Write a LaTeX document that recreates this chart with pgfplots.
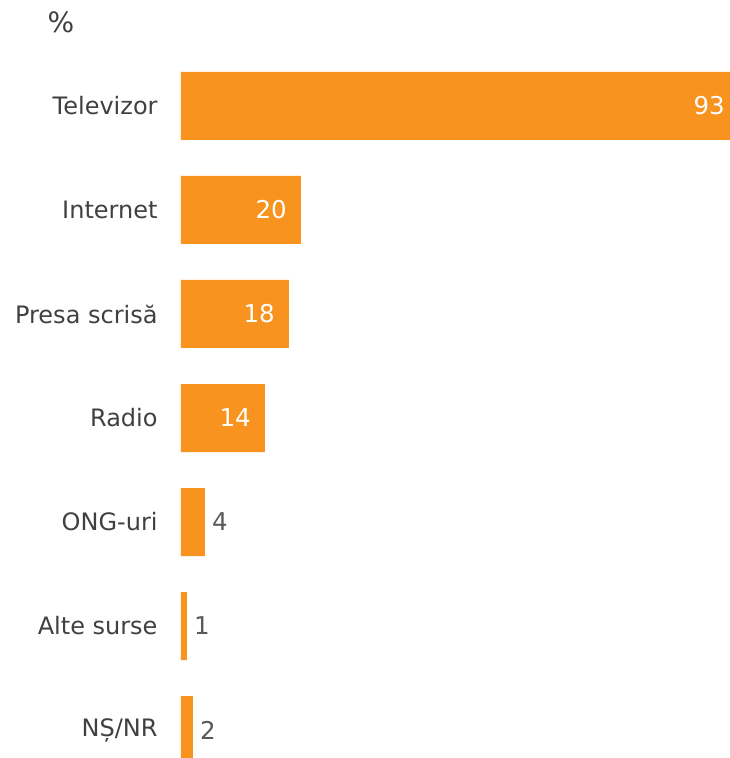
\documentclass[border=0pt]{standalone}
\usepackage{pgfplots}
\pgfplotsset{compat=1.18}
\usepackage{fontspec}
\setmainfont{DejaVu Sans}
\definecolor{barorange}{HTML}{F7931E}
\definecolor{labgray}{HTML}{404040}
\definecolor{valgray}{HTML}{595959}
\begin{document}
\begin{tikzpicture}[x=1pt,y=1pt]
\useasboundingbox (0,0) rectangle (730,758);
\node[text=labgray, font=\fontsize{28}{30}\selectfont, inner sep=0pt] at (61,736) {\%};
\begin{axis}[
  at={(181pt,0pt)}, anchor=south west,
  width=558pt, height=758pt, scale only axis,
  xmin=0, xmax=93,
  ymin=-1.019, ymax=6.269,
  y dir=reverse,
  xbar, bar shift=0pt, bar width=68pt,
  axis line style={draw=none},
  major tick style={draw=none},
  xtick=\empty,
  ytick={0,1,2,3,4,5,6},
  yticklabels={Televizor,Internet,Presa scrisă,Radio,ONG-uri,Alte surse,NȘ/NR},
  yticklabel style={anchor=east, inner sep=0pt, xshift=-19pt, text=labgray, font=\fontsize{24}{26}\selectfont},
  point meta=x,
  /pgf/number format/assume math mode=true,
  nodes near coords={\pgfmathprintnumber[assume math mode=true]{\pgfplotspointmeta}},
  nodes near coords style={font=\fontsize{24.5}{26}\selectfont, inner sep=0pt},
]
\addplot[fill=barorange, draw=none,
  every node near coord/.append style={anchor=east, xshift=-14pt, text=white}]
  coordinates {(93,0) (20,1) (18,2) (14,3)};
\addplot[fill=barorange, draw=none,
  every node near coord/.append style={anchor=west, xshift=7pt, text=valgray}]
  coordinates {(4,4) (1,5) (2,6)};
\end{axis}
\end{tikzpicture}
\end{document}
